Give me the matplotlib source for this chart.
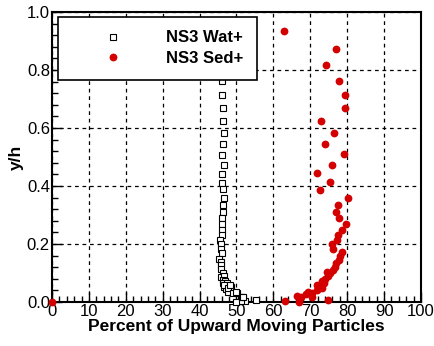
import numpy as np
import matplotlib.pyplot as plt
from matplotlib.ticker import MultipleLocator

# NS3 Wat+ (open squares)
wat_x = [46.1, 46.2, 46.3, 46.4, 46.5, 46.4, 46.2, 46.5, 46.1, 46.0, 46.4, 46.5, 46.3, 46.3,
         46.0, 46.1, 46.0, 46.0, 45.5, 45.8, 45.8, 46.0, 45.3, 45.7, 45.8, 45.9, 46.3, 45.8,
         46.7, 46.3, 46.9, 46.3, 47.3, 46.6, 47.2, 48.2, 47.8, 48.4, 46.6, 47.8, 49.1, 50.2,
         51.1, 51.8, 52.3, 51.1, 50.0, 55.3, 50.0, 51.4, 51.7, 48.2]
wat_y = [0.762, 0.714, 0.668, 0.625, 0.584, 0.545, 0.508, 0.473, 0.441, 0.411, 0.389, 0.359,
         0.334, 0.310, 0.290, 0.269, 0.248, 0.231, 0.214, 0.199, 0.183, 0.168, 0.148, 0.139,
         0.128, 0.115, 0.101, 0.086, 0.090, 0.077, 0.073, 0.064, 0.064, 0.051, 0.044, 0.056,
         0.036, 0.053, 0.059, 0.047, 0.032, 0.030, 0.018, 0.013, 0.005, 0.005, 0.000, 0.007,
         0.036, 0.018, 0.018, 0.059]

# NS3 Sed+ (red dots)
sed_x = [62.9, 77.0, 74.2, 77.7, 79.5, 79.4, 73.0, 76.3, 74.1, 79.2, 75.8, 71.7, 75.3, 72.6,
         80.3, 77.6, 77.0, 77.7, 79.8, 78.6, 77.4, 77.2, 76.0, 76.2, 78.6, 78.0, 77.7, 77.1,
         76.7, 76.2, 75.3, 74.4, 74.9, 74.1, 73.3, 73.6, 72.8, 71.9, 73.2, 71.7, 70.6, 69.3,
         68.8, 67.5, 66.3, 66.9, 63.2, 70.4, 74.9, 0.0]
sed_y = [0.934, 0.872, 0.817, 0.763, 0.714, 0.668, 0.625, 0.583, 0.545, 0.509, 0.474, 0.444,
         0.413, 0.385, 0.360, 0.336, 0.312, 0.291, 0.269, 0.249, 0.232, 0.215, 0.200, 0.184,
         0.171, 0.157, 0.145, 0.133, 0.122, 0.110, 0.101, 0.102, 0.090, 0.078, 0.073, 0.064,
         0.059, 0.059, 0.048, 0.041, 0.032, 0.036, 0.027, 0.018, 0.022, 0.001, 0.003, 0.018,
         0.007, 0.000]

plt.rcParams['font.family'] = ['Liberation Sans', 'DejaVu Sans']

fig = plt.figure(figsize=(4.34, 3.46), dpi=100)
ax = fig.add_axes([0.1198, 0.1272, 0.8502, 0.8378])

ax.plot(wat_x, wat_y, 's', ms=4.3, mfc='white', mec='black', mew=0.8,
        label='NS3 Wat+', clip_on=False, zorder=3)
ax.plot(sed_x, sed_y, 'o', ms=5.6, mfc='#d40000', mec='#d40000', mew=0,
        label='NS3 Sed+', clip_on=False, zorder=4)

ax.set_xlim(0, 100)
ax.set_ylim(0, 1)
ax.xaxis.set_major_locator(MultipleLocator(10))
ax.xaxis.set_minor_locator(MultipleLocator(2))
ax.yaxis.set_major_locator(MultipleLocator(0.2))
ax.yaxis.set_minor_locator(MultipleLocator(0.04))
ax.yaxis.set_major_formatter(plt.FormatStrFormatter('%.1f'))
ax.tick_params(which='both', direction='in', top=False, right=False,
               labelsize=12, pad=1.5, width=1)
ax.tick_params(which='major', length=7)
ax.tick_params(which='minor', length=4)
ax.grid(True, which='major', linestyle=(0, (3, 3)), color='black', linewidth=0.9)

for s in ax.spines.values():
    s.set_linewidth(1.5)

ax.set_xlabel('Percent of Upward Moving Particles', fontsize=12.5, fontweight='bold', labelpad=0)
ax.set_ylabel('y/h', fontsize=12.5, fontweight='bold', labelpad=2)

leg = ax.legend(loc='upper left', bbox_to_anchor=(0.016, 0.983), borderaxespad=0,
                prop={'weight': 'bold', 'size': 12}, handlelength=5, handletextpad=0.7,
                borderpad=0.8, labelspacing=0.35, fancybox=False, framealpha=1,
                edgecolor='black', markerscale=1.0)
leg.get_frame().set_linewidth(1.2)
leg.set_zorder(10)

fig.savefig('out.png', dpi=100)
